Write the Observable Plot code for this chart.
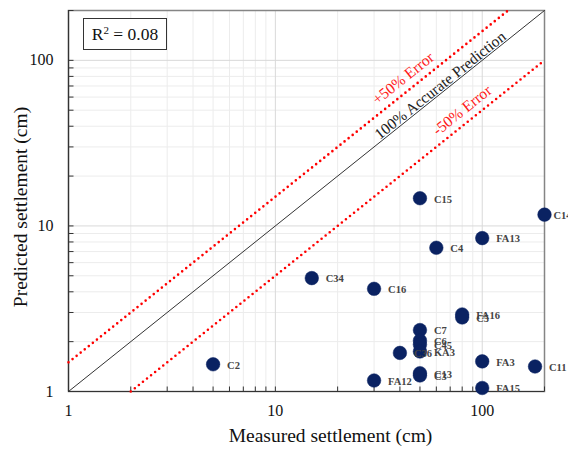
<!DOCTYPE html>
<html><head><meta charset="utf-8">
<script src="https://cdn.jsdelivr.net/npm/d3@7"></script>
<script src="https://cdn.jsdelivr.net/npm/@observablehq/plot@0.6"></script>
<style>
body{margin:0;background:#fff;}
#wrap{position:relative;width:568px;height:450px;overflow:hidden;}
#wrap svg{display:block;}
#r2{position:absolute;left:83px;top:18px;width:84px;height:32px;border:1px solid #333;background:#fff;
font-family:"Liberation Serif",serif;font-size:17.5px;line-height:30px;text-align:center;box-sizing:border-box;color:#111;}
#r2 .sup{font-size:11px;position:relative;top:-6px;}
</style></head><body>
<div id="wrap"><div id="r2">R<span class="sup">2</span> = 0.08</div></div>
<script>
// point data
const names     = ["C2","C34","C16","C15","C4","FA13","C14","FA16","C5","C7","C6","C45","KA3","C36","C13","C3","FA12","FA3","C11","FA15"];
const measured  = [5,   15,   30,   50,   60,  100,   200,  80,    80,  50,  50,  50,   50,   40,   50,   50,  30,    100,  180,  100];
const predicted = [1.46,4.84, 4.17, 14.7, 7.38,8.44,  11.7, 2.92,  2.80,2.35,2.03,1.92, 1.745,1.71, 1.29, 1.25,1.165, 1.52, 1.416,1.05];

// axis tick values
const majorTicks = [1, 10, 100];
const minorTicks = [2,3,4,5,6,7,8,9,20,30,40,50,60,70,80,90,200];

// reference lines (y = x, y = 1.5x, y = 0.5x) endpoints within the 1–200 domain
const accurateX = [1, 200],  accurateY = [1, 200];
const plus50X   = [1, 133.33], plus50Y = [1.5, 200];
const minus50X  = [2, 200],  minus50Y  = [1, 100];

const points = names.map((n, i) => ({name: n, x: measured[i], y: predicted[i]}));
const toLine = (xs, ys) => xs.map((x, i) => ({x, y: ys[i]}));

const annotations = [
  {x: 62.7, y: 70.6, text: "100% Accurate Prediction", color: "#222"},
  {x: 41.5, y: 77.9, text: "+50% Error", color: "#ff1a1a"},
  {x: 80, y: 49.9, text: "-50% Error", color: "#ff1a1a"}
];

const tickUp = {draw(c){ c.moveTo(0,0); c.lineTo(0,-5); }};
const tickRight = {draw(c){ c.moveTo(0,0); c.lineTo(5,0); }};
const allTicks = majorTicks.concat(minorTicks);
const font = "Liberation Serif";
const edgeLabel = d => d.x >= 200; // label kept inside the chart area, as in the reference

const chart = Plot.plot({
  width: 568, height: 450,
  marginLeft: 68, marginRight: 24, marginTop: 10, marginBottom: 59,
  x: {type: "log", domain: [1, 200], axis: null},
  y: {type: "log", domain: [1, 200], axis: null},
  style: {fontFamily: font, background: "#fff"},
  marks: [
    Plot.ruleX(minorTicks, {stroke: "#ececec", strokeWidth: 1}),
    Plot.ruleY(minorTicks, {stroke: "#ececec", strokeWidth: 1}),
    Plot.ruleX(majorTicks, {stroke: "#d9d9d9", strokeWidth: 1}),
    Plot.ruleY(majorTicks, {stroke: "#d9d9d9", strokeWidth: 1}),
    Plot.frame({stroke: "#858585", strokeWidth: 1.5}),
    Plot.ruleX([1], {stroke: "#333", strokeWidth: 1.2}),
    Plot.ruleY([1], {stroke: "#333", strokeWidth: 1.2}),
    Plot.dot(allTicks, {x: d => d, frameAnchor: "bottom", symbol: tickUp, fill: "none", stroke: "#333", strokeWidth: 1}),
    Plot.dot(allTicks, {y: d => d, frameAnchor: "left", symbol: tickRight, fill: "none", stroke: "#333", strokeWidth: 1}),
    Plot.line(toLine(accurateX, accurateY), {x: "x", y: "y", stroke: "#333", strokeWidth: 1}),
    Plot.line(toLine(plus50X, plus50Y), {x: "x", y: "y", stroke: "#ff0000", strokeWidth: 2.6, strokeDasharray: "0,5.2", strokeLinecap: "round"}),
    Plot.line(toLine(minus50X, minus50Y), {x: "x", y: "y", stroke: "#ff0000", strokeWidth: 2.6, strokeDasharray: "0,5.2", strokeLinecap: "round"}),
    Plot.text(annotations, {x: "x", y: "y", text: "text", fill: "color", rotate: -38.6, fontSize: 15.5}),
    Plot.dot(points, {x: "x", y: "y", r: 6.8, fill: "#0a2262", stroke: "#0a2262", strokeWidth: 0.5}),
    Plot.text(points.filter(d => !edgeLabel(d)), {x: "x", y: "y", text: "name", dx: 14, dy: 1, textAnchor: "start", fontWeight: "bold", fontSize: 10.5, fill: "#444"}),
    Plot.text(points.filter(edgeLabel), {x: "x", y: "y", text: "name", dx: 9, dy: 1, textAnchor: "start", fontWeight: "bold", fontSize: 10.5, fill: "#444"}),
    Plot.text(majorTicks, {x: d => d, text: d => String(d), frameAnchor: "bottom", lineAnchor: "middle", dy: 19, fontSize: 16, fill: "#111"}),
    Plot.text(majorTicks, {y: d => d, text: d => String(d), frameAnchor: "left", lineAnchor: "middle", dx: -15, textAnchor: "end", fontSize: 16, fill: "#111"}),
    Plot.text(["Measured settlement (cm)"], {frameAnchor: "bottom", lineAnchor: "middle", textAnchor: "middle", text: d => d, dx: 24, dy: 44, fontSize: 19.5, fill: "#111"}),
    Plot.text(["Predicted settlement (cm)"], {frameAnchor: "left", lineAnchor: "middle", textAnchor: "middle", text: d => d, dx: -48, dy: 6, rotate: -90, fontSize: 19.5, fill: "#111"})
  ]
});
document.getElementById("wrap").insertBefore(chart, document.getElementById("r2"));
</script>
</body></html>
